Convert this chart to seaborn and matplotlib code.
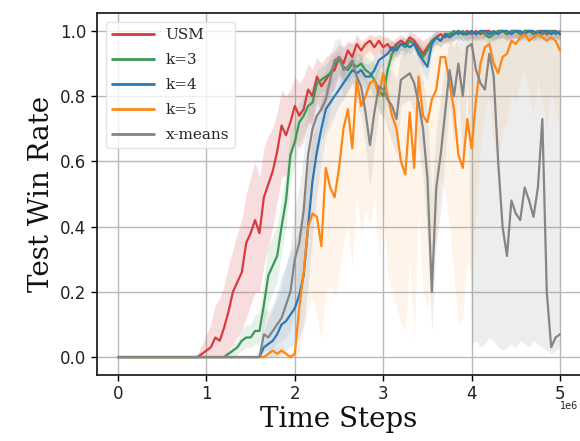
import matplotlib
matplotlib.use("Agg")
import matplotlib.pyplot as plt
import seaborn as sns
import pandas as pd

# time steps (in units of 1e6)
steps = [0.00, 0.05, 0.10, 0.15, 0.20, 0.25, 0.30, 0.35, 0.40, 0.45,
         0.50, 0.55, 0.60, 0.65, 0.70, 0.75, 0.80, 0.85, 0.90, 0.95,
         1.00, 1.05, 1.10, 1.15, 1.20, 1.25, 1.30, 1.35, 1.40, 1.45,
         1.50, 1.55, 1.60, 1.65, 1.70, 1.75, 1.80, 1.85, 1.90, 1.95,
         2.00, 2.05, 2.10, 2.15, 2.20, 2.25, 2.30, 2.35, 2.40, 2.45,
         2.50, 2.55, 2.60, 2.65, 2.70, 2.75, 2.80, 2.85, 2.90, 2.95,
         3.00, 3.05, 3.10, 3.15, 3.20, 3.25, 3.30, 3.35, 3.40, 3.45,
         3.50, 3.55, 3.60, 3.65, 3.70, 3.75, 3.80, 3.85, 3.90, 3.95,
         4.00, 4.05, 4.10, 4.15, 4.20, 4.25, 4.30, 4.35, 4.40, 4.45,
         4.50, 4.55, 4.60, 4.65, 4.70, 4.75, 4.80, 4.85, 4.90, 4.95,
         5.00]

methods = ["USM", "k=3", "k=4", "k=5", "x-means"]
colors = ["#d83b3e", "#3a9a55", "#2a78b8", "#ff8616", "#858585"]

usm = [0, 0, 0, 0, 0, 0, 0, 0, 0, 0,
       0, 0, 0, 0, 0, 0, 0, 0, 0, 0.01,
       0.02, 0.03, 0.06, 0.05, 0.09, 0.14, 0.20, 0.23, 0.26, 0.35,
       0.38, 0.42, 0.38, 0.49, 0.53, 0.57, 0.63, 0.71, 0.68, 0.72,
       0.77, 0.74, 0.76, 0.82, 0.80, 0.86, 0.83, 0.85, 0.87, 0.88,
       0.92, 0.90, 0.94, 0.92, 0.96, 0.94, 0.96, 0.97, 0.95, 0.97,
       0.95, 0.96, 0.94, 0.96, 0.97, 0.96, 0.98, 0.97, 0.95, 0.93,
       0.95, 0.97, 0.98, 0.99, 0.98, 0.99, 0.99, 1.00, 0.99, 1.00,
       0.99, 1.00, 0.99, 1.00, 1.00, 0.99, 1.00, 1.00, 0.99, 1.00,
       1.00, 0.99, 1.00, 1.00, 0.99, 1.00, 1.00, 0.99, 1.00, 1.00,
       0.99]
usm_lo = [0, 0, 0, 0, 0, 0, 0, 0, 0, 0,
          0, 0, 0, 0, 0, 0, 0, 0, 0, 0,
          0, 0, 0, 0, 0, 0.02, 0.04, 0.06, 0.08, 0.12,
          0.16, 0.20, 0.20, 0.28, 0.34, 0.40, 0.48, 0.55, 0.56, 0.60,
          0.66, 0.64, 0.66, 0.72, 0.71, 0.78, 0.75, 0.78, 0.81, 0.82,
          0.87, 0.85, 0.90, 0.88, 0.93, 0.91, 0.93, 0.94, 0.92, 0.94,
          0.92, 0.93, 0.91, 0.93, 0.94, 0.93, 0.96, 0.95, 0.92, 0.89,
          0.92, 0.95, 0.96, 0.97, 0.96, 0.97, 0.97, 0.98, 0.97, 0.98,
          0.97, 0.98, 0.97, 0.98, 0.98, 0.97, 0.98, 0.98, 0.97, 0.98,
          0.98, 0.97, 0.98, 0.98, 0.97, 0.98, 0.98, 0.97, 0.98, 0.98,
          0.97]
usm_hi = [0, 0, 0, 0, 0, 0, 0, 0, 0, 0,
          0, 0, 0, 0, 0, 0, 0, 0, 0.01, 0.04,
          0.07, 0.10, 0.16, 0.18, 0.22, 0.28, 0.33, 0.38, 0.42, 0.50,
          0.55, 0.60, 0.55, 0.64, 0.68, 0.70, 0.75, 0.82, 0.80, 0.82,
          0.86, 0.84, 0.86, 0.90, 0.88, 0.92, 0.90, 0.92, 0.93, 0.94,
          0.96, 0.95, 0.97, 0.96, 0.99, 0.97, 0.98, 0.99, 0.98, 0.99,
          0.98, 0.98, 0.97, 0.98, 0.99, 0.98, 1.00, 0.99, 0.98, 0.97,
          0.98, 0.99, 1.00, 1.00, 1.00, 1.00, 1.00, 1.00, 1.00, 1.00,
          1.00, 1.00, 1.00, 1.00, 1.00, 1.00, 1.00, 1.00, 1.00, 1.00,
          1.00, 1.00, 1.00, 1.00, 1.00, 1.00, 1.00, 1.00, 1.00, 1.00,
          1.00]

k3 = [0, 0, 0, 0, 0, 0, 0, 0, 0, 0,
      0, 0, 0, 0, 0, 0, 0, 0, 0, 0,
      0, 0, 0, 0, 0, 0.01, 0.02, 0.03, 0.05, 0.06,
      0.06, 0.08, 0.08, 0.16, 0.25, 0.28, 0.31, 0.40, 0.48, 0.62,
      0.66, 0.72, 0.74, 0.77, 0.78, 0.84, 0.85, 0.86, 0.87, 0.90,
      0.91, 0.89, 0.88, 0.90, 0.89, 0.90, 0.88, 0.87, 0.85, 0.82,
      0.80, 0.88, 0.93, 0.95, 0.96, 0.95, 0.97, 0.96, 0.94, 0.92,
      0.94, 0.97, 0.98, 0.97, 0.99, 0.99, 1.00, 0.99, 1.00, 0.99,
      1.00, 0.99, 1.00, 0.99, 0.98, 0.99, 1.00, 1.00, 0.99, 1.00,
      1.00, 0.99, 1.00, 1.00, 0.99, 1.00, 0.99, 1.00, 1.00, 0.99,
      1.00]
k3_lo = [0, 0, 0, 0, 0, 0, 0, 0, 0, 0,
         0, 0, 0, 0, 0, 0, 0, 0, 0, 0,
         0, 0, 0, 0, 0, 0, 0, 0.01, 0.02, 0.03,
         0.03, 0.04, 0.04, 0.09, 0.16, 0.20, 0.23, 0.32, 0.40, 0.54,
         0.59, 0.66, 0.68, 0.72, 0.73, 0.80, 0.81, 0.82, 0.83, 0.86,
         0.87, 0.85, 0.84, 0.86, 0.85, 0.86, 0.84, 0.82, 0.80, 0.76,
         0.73, 0.83, 0.90, 0.92, 0.93, 0.92, 0.95, 0.94, 0.91, 0.89,
         0.91, 0.95, 0.96, 0.95, 0.97, 0.97, 0.98, 0.97, 0.98, 0.97,
         0.98, 0.97, 0.98, 0.97, 0.96, 0.97, 0.98, 0.98, 0.97, 0.98,
         0.98, 0.97, 0.98, 0.98, 0.97, 0.98, 0.97, 0.98, 0.98, 0.97,
         0.98]
k3_hi = [0, 0, 0, 0, 0, 0, 0, 0, 0, 0,
         0, 0, 0, 0, 0, 0, 0, 0, 0, 0,
         0, 0, 0, 0, 0.01, 0.02, 0.04, 0.05, 0.08, 0.10,
         0.10, 0.13, 0.14, 0.24, 0.34, 0.37, 0.40, 0.49, 0.57, 0.70,
         0.73, 0.78, 0.80, 0.82, 0.83, 0.88, 0.89, 0.90, 0.91, 0.93,
         0.94, 0.92, 0.92, 0.93, 0.93, 0.93, 0.92, 0.91, 0.90, 0.88,
         0.87, 0.92, 0.96, 0.97, 0.98, 0.97, 0.99, 0.98, 0.97, 0.95,
         0.97, 0.99, 1.00, 0.99, 1.00, 1.00, 1.00, 1.00, 1.00, 1.00,
         1.00, 1.00, 1.00, 1.00, 1.00, 1.00, 1.00, 1.00, 1.00, 1.00,
         1.00, 1.00, 1.00, 1.00, 1.00, 1.00, 1.00, 1.00, 1.00, 1.00,
         1.00]

k4 = [0, 0, 0, 0, 0, 0, 0, 0, 0, 0,
      0, 0, 0, 0, 0, 0, 0, 0, 0, 0,
      0, 0, 0, 0, 0, 0, 0, 0, 0, 0,
      0, 0, 0, 0.03, 0.04, 0.05, 0.07, 0.10, 0.11, 0.13,
      0.15, 0.19, 0.25, 0.40, 0.54, 0.63, 0.70, 0.76, 0.78, 0.80,
      0.82, 0.84, 0.86, 0.88, 0.87, 0.88, 0.86, 0.86, 0.88, 0.91,
      0.92, 0.93, 0.95, 0.94, 0.96, 0.96, 0.95, 0.96, 0.93, 0.91,
      0.89, 0.96, 0.98, 0.97, 0.99, 0.98, 0.99, 1.00, 0.99, 0.99,
      1.00, 0.99, 1.00, 1.00, 0.99, 1.00, 0.99, 1.00, 1.00, 0.99,
      1.00, 1.00, 0.99, 1.00, 1.00, 0.99, 1.00, 1.00, 0.99, 1.00,
      0.99]
k4_lo = [0, 0, 0, 0, 0, 0, 0, 0, 0, 0,
         0, 0, 0, 0, 0, 0, 0, 0, 0, 0,
         0, 0, 0, 0, 0, 0, 0, 0, 0, 0,
         0, 0, 0, 0, 0, 0, 0, 0.01, 0.02, 0.03,
         0.04, 0.06, 0.10, 0.22, 0.38, 0.50, 0.60, 0.68, 0.71, 0.74,
         0.77, 0.79, 0.82, 0.84, 0.83, 0.84, 0.82, 0.82, 0.84, 0.88,
         0.89, 0.90, 0.93, 0.92, 0.94, 0.94, 0.93, 0.94, 0.90, 0.87,
         0.85, 0.93, 0.96, 0.95, 0.97, 0.96, 0.97, 0.98, 0.97, 0.97,
         0.98, 0.97, 0.98, 0.98, 0.97, 0.98, 0.97, 0.98, 0.98, 0.97,
         0.98, 0.98, 0.97, 0.98, 0.98, 0.97, 0.98, 0.98, 0.97, 0.98,
         0.97]
k4_hi = [0, 0, 0, 0, 0, 0, 0, 0, 0, 0,
         0, 0, 0, 0, 0, 0, 0, 0, 0, 0,
         0, 0, 0, 0, 0, 0, 0, 0, 0, 0,
         0, 0, 0.01, 0.08, 0.12, 0.15, 0.20, 0.25, 0.28, 0.32,
         0.35, 0.40, 0.45, 0.58, 0.68, 0.74, 0.79, 0.83, 0.85, 0.86,
         0.87, 0.89, 0.90, 0.92, 0.91, 0.92, 0.90, 0.90, 0.92, 0.94,
         0.95, 0.96, 0.97, 0.96, 0.98, 0.98, 0.97, 0.98, 0.96, 0.95,
         0.93, 0.98, 1.00, 0.99, 1.00, 1.00, 1.00, 1.00, 1.00, 1.00,
         1.00, 1.00, 1.00, 1.00, 1.00, 1.00, 1.00, 1.00, 1.00, 1.00,
         1.00, 1.00, 1.00, 1.00, 1.00, 1.00, 1.00, 1.00, 1.00, 1.00,
         1.00]

k5 = [0, 0, 0, 0, 0, 0, 0, 0, 0, 0,
      0, 0, 0, 0, 0, 0, 0, 0, 0, 0,
      0, 0, 0, 0, 0, 0, 0, 0, 0, 0,
      0, 0, 0, 0, 0.01, 0.02, 0.01, 0.02, 0.01, 0.00,
      0.01, 0.15, 0.26, 0.40, 0.44, 0.43, 0.34, 0.58, 0.52, 0.49,
      0.58, 0.70, 0.76, 0.64, 0.85, 0.77, 0.80, 0.84, 0.85, 0.80,
      0.87, 0.80, 0.74, 0.70, 0.60, 0.56, 0.75, 0.58, 0.86, 0.74,
      0.72, 0.79, 0.82, 0.92, 0.92, 0.84, 0.76, 0.62, 0.58, 0.73,
      0.64, 0.79, 0.90, 0.95, 0.96, 0.90, 0.87, 0.92, 0.93, 0.97,
      0.96, 0.98, 0.99, 0.97, 0.98, 0.99, 0.98, 0.97, 0.98, 0.97,
      0.94]
k5_lo = [0, 0, 0, 0, 0, 0, 0, 0, 0, 0,
         0, 0, 0, 0, 0, 0, 0, 0, 0, 0,
         0, 0, 0, 0, 0, 0, 0, 0, 0, 0,
         0, 0, 0, 0, 0, 0, 0, 0, 0, 0,
         0, 0.02, 0.08, 0.15, 0.18, 0.12, 0.06, 0.20, 0.22, 0.18,
         0.25, 0.35, 0.40, 0.28, 0.50, 0.38, 0.45, 0.40, 0.50, 0.30,
         0.45, 0.25, 0.20, 0.15, 0.10, 0.08, 0.30, 0.05, 0.45, 0.20,
         0.15, 0.30, 0.35, 0.55, 0.50, 0.40, 0.25, 0.10, 0.12, 0.30,
         0.25, 0.45, 0.65, 0.75, 0.80, 0.65, 0.60, 0.70, 0.72, 0.82,
         0.78, 0.85, 0.88, 0.80, 0.75, 0.85, 0.78, 0.70, 0.82, 0.75,
         0.70]
k5_hi = [0, 0, 0, 0, 0, 0, 0, 0, 0, 0,
         0, 0, 0, 0, 0, 0, 0, 0, 0, 0,
         0, 0, 0, 0, 0, 0, 0, 0, 0, 0,
         0, 0, 0, 0, 0.02, 0.04, 0.03, 0.04, 0.02, 0.01,
         0.03, 0.40, 0.52, 0.62, 0.68, 0.70, 0.62, 0.85, 0.80, 0.78,
         0.85, 0.92, 0.95, 0.90, 0.98, 0.96, 0.97, 0.98, 0.99, 0.97,
         0.99, 0.98, 0.97, 0.96, 0.94, 0.92, 0.97, 0.93, 0.99, 0.97,
         0.96, 0.98, 0.99, 1.00, 1.00, 0.99, 0.98, 0.95, 0.94, 0.98,
         0.97, 0.99, 1.00, 1.00, 1.00, 1.00, 0.99, 1.00, 1.00, 1.00,
         1.00, 1.00, 1.00, 1.00, 1.00, 1.00, 1.00, 1.00, 1.00, 1.00,
         1.00]

xmeans = [0, 0, 0, 0, 0, 0, 0, 0, 0, 0,
          0, 0, 0, 0, 0, 0, 0, 0, 0, 0,
          0, 0, 0, 0, 0, 0, 0, 0, 0, 0,
          0, 0, 0, 0.07, 0.06, 0.08, 0.10, 0.12, 0.16, 0.20,
          0.30, 0.35, 0.45, 0.62, 0.70, 0.74, 0.76, 0.79, 0.85, 0.91,
          0.92, 0.88, 0.89, 0.91, 0.86, 0.83, 0.75, 0.65, 0.75, 0.83,
          0.82, 0.79, 0.77, 0.73, 0.85, 0.86, 0.87, 0.84, 0.78, 0.70,
          0.55, 0.20, 0.52, 0.62, 0.75, 0.88, 0.80, 0.90, 0.80, 0.95,
          0.96, 0.88, 0.84, 0.82, 0.93, 0.86, 0.60, 0.40, 0.31, 0.48,
          0.44, 0.42, 0.52, 0.48, 0.43, 0.52, 0.73, 0.20, 0.03, 0.06,
          0.07]
xmeans_lo = [0, 0, 0, 0, 0, 0, 0, 0, 0, 0,
             0, 0, 0, 0, 0, 0, 0, 0, 0, 0,
             0, 0, 0, 0, 0, 0, 0, 0, 0, 0,
             0, 0, 0, 0.02, 0.02, 0.03, 0.04, 0.05, 0.06, 0.08,
             0.14, 0.18, 0.26, 0.45, 0.55, 0.62, 0.66, 0.70, 0.76, 0.84,
             0.86, 0.80, 0.81, 0.84, 0.78, 0.74, 0.64, 0.52, 0.64, 0.75,
             0.74, 0.70, 0.66, 0.62, 0.77, 0.78, 0.79, 0.75, 0.66, 0.55,
             0.35, 0.08, 0.35, 0.45, 0.60, 0.78, 0.65, 0.80, 0.60, 0.85,
             0.04, 0.05, 0.03, 0.04, 0.06, 0.05, 0.03, 0.02, 0.03, 0.04,
             0.03, 0.05, 0.04, 0.03, 0.05, 0.04, 0.03, 0.02, 0.01, 0.02,
             0.03]
xmeans_hi = [0, 0, 0, 0, 0, 0, 0, 0, 0, 0,
             0, 0, 0, 0, 0, 0, 0, 0, 0, 0,
             0, 0, 0, 0, 0, 0, 0, 0, 0, 0,
             0, 0, 0.02, 0.15, 0.14, 0.16, 0.18, 0.22, 0.28, 0.34,
             0.46, 0.52, 0.62, 0.78, 0.84, 0.86, 0.86, 0.88, 0.93, 0.97,
             0.98, 0.95, 0.96, 0.97, 0.94, 0.92, 0.86, 0.80, 0.86, 0.91,
             0.90, 0.88, 0.88, 0.85, 0.93, 0.94, 0.95, 0.93, 0.90, 0.85,
             0.75, 0.50, 0.70, 0.80, 0.90, 0.97, 0.95, 0.99, 0.97, 1.00,
             1.00, 0.99, 0.98, 0.99, 1.00, 0.99, 0.99, 0.98, 0.99, 0.99,
             0.99, 0.99, 1.00, 0.99, 0.99, 1.00, 1.00, 0.99, 0.98, 0.99,
             0.99]

means = [usm, k3, k4, k5, xmeans]
lows = [usm_lo, k3_lo, k4_lo, k5_lo, xmeans_lo]
highs = [usm_hi, k3_hi, k4_hi, k5_hi, xmeans_hi]

rows = []
for name, vals in zip(methods, means):
    for s, v in zip(steps, vals):
        rows.append({"step": s * 1e6, "win": v, "method": name})
df = pd.DataFrame(rows)

sns.set_theme(style="whitegrid")
plt.rcParams["font.family"] = ["DejaVu Sans"]

fig = plt.figure(figsize=(5.8, 4.41), dpi=100)
ax = fig.add_axes([97 / 580, 66 / 441, 483 / 580, 362 / 441])

band_alpha = [0.17, 0.13, 0.13, 0.09, 0.14]
for name, c, lo, hi, a in zip(methods, colors, lows, highs, band_alpha):
    ax.fill_between([s * 1e6 for s in steps], lo, hi, color=c, alpha=a,
                    linewidth=0)

sns.lineplot(data=df, x="step", y="win", hue="method", hue_order=methods,
             palette=colors, linewidth=1.6, errorbar=None, ax=ax)

ax.set_xlim(-0.238e6, 5.226e6)
ax.set_ylim(-0.055, 1.055)
ax.set_xticks([0, 1e6, 2e6, 3e6, 4e6, 5e6])
ax.set_xticklabels(["0", "1", "2", "3", "4", "5"])
ax.set_yticks([0.0, 0.2, 0.4, 0.6, 0.8, 1.0])
ax.set_yticklabels(["0.0", "0.2", "0.4", "0.6", "0.8", "1.0"])
# scale marker below the last tick label, as in the original
ax.text(0.997, -0.072, "1e6", transform=ax.transAxes, ha="right", va="top",
        fontsize=7, color="#222222")
ax.tick_params(axis="both", labelsize=12, length=4, width=1, color="black",
               labelcolor="#222222", direction="out", bottom=True, left=True)
ax.grid(True, color="#b8b8b8", linewidth=1.0)
for side in ["left", "bottom", "top"]:
    ax.spines[side].set_color("#222222")
    ax.spines[side].set_linewidth(1.3)
ax.spines["right"].set_visible(False)

ax.set_xlabel("Time Steps", family="DejaVu Serif", fontsize=20, color="#111111",
              labelpad=2)
ax.set_ylabel("Test Win Rate", family="DejaVu Serif", fontsize=20,
              color="#111111", labelpad=4)

leg = ax.legend(loc="upper left", prop={"family": "DejaVu Serif", "size": 11},
                handlelength=2.7, labelspacing=0.72, frameon=True,
                borderaxespad=0.6)
leg.get_frame().set_edgecolor("#dddddd")
for line in leg.get_lines():
    line.set_linewidth(2.0)

fig.savefig("out.png", dpi=100)
